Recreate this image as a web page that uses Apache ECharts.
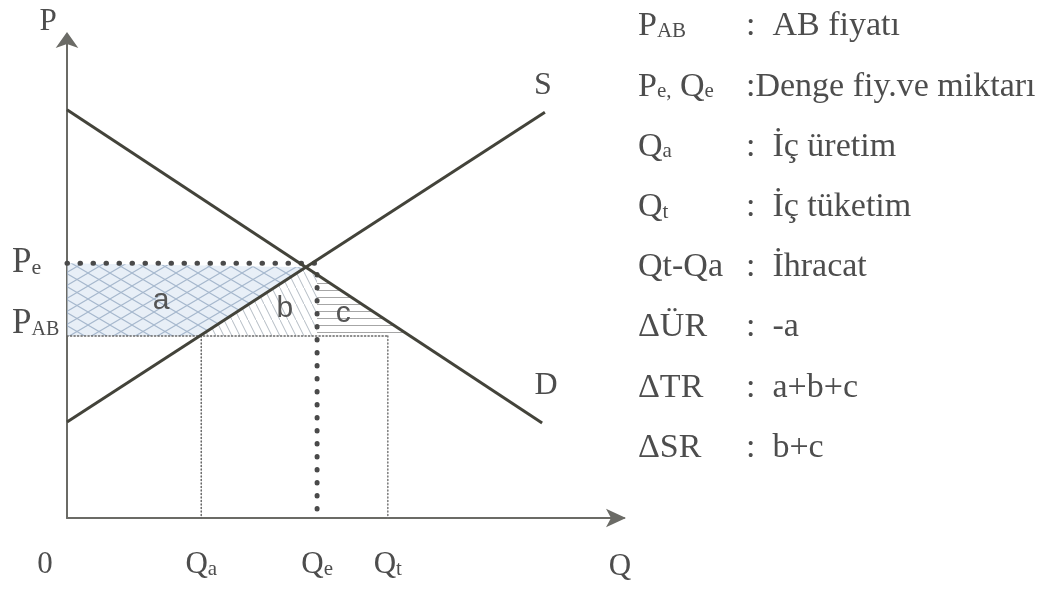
<!DOCTYPE html>
<html><head><meta charset="utf-8">
<script src="https://cdn.jsdelivr.net/npm/echarts@6/dist/echarts.min.js"></script>
<style>html,body{margin:0;padding:0;background:#fff}#c{width:1056px;height:590px}</style>
</head><body><div id="c"></div>
<script>
// ---- data (abstract units, axes 0..100) ----
const demandLine = [[0, 85.4], [85.3, 19.9]];
const supplyLine = [[0, 20.1], [85.8, 84.9]];
const priceNames = ['Pe', 'PAB'];
const priceValues = [53.3, 38.1];
const quantityNames = ['Qa', 'Qe', 'Qt'];
const quantityValues = [24.1, 44.9, 57.6];
const areaNames = ['a', 'b', 'c'];
const areaLabelPoints = [[16.9, 45.4], [39.1, 43.7], [49.6, 42.7]];
const legendKeys = ['{m|P}{s|AB}', '{m|P}{s|e,} {m|Q}{s|e}', '{m|Q}{s|a}', '{m|Q}{s|t}', '{m|Qt-Qa}', '{m|\u0394ÜR}', '{m|\u0394TR}', '{m|\u0394SR}'];
const legendTexts = [':  AB fiyatı', ':Denge fiy.ve miktarı', ':  İç üretim', ':  İç tüketim', ':  İhracat', ':  -a', ':  a+b+c', ':  b+c'];

// ---- helpers ----
function vAt(line, u) { const [[x1,y1],[x2,y2]] = line; return y1 + (y2-y1)*(u-x1)/(x2-x1); }
function uAt(line, v) { const [[x1,y1],[x2,y2]] = line; return x1 + (x2-x1)*(v-y1)/(y2-y1); }
function intersect(l1, l2) {
  const m1 = (l1[1][1]-l1[0][1])/(l1[1][0]-l1[0][0]), b1 = l1[0][1]-m1*l1[0][0];
  const m2 = (l2[1][1]-l2[0][1])/(l2[1][0]-l2[0][0]), b2 = l2[0][1]-m2*l2[0][0];
  const u = (b2-b1)/(m1-m2); return [u, m1*u+b1];
}
const Pe = priceValues[0], PAB = priceValues[1];
const Qa = quantityValues[0], Qe = quantityValues[1], Qt = quantityValues[2];
const I = intersect(demandLine, supplyLine);
const sPAB = uAt(supplyLine, PAB);
const dQe = vAt(demandLine, Qe);
const dPAB = uAt(demandLine, PAB);
const regions = [
  [[0, PAB], [sPAB, PAB], I, [0, Pe]],
  [[sPAB, PAB], I, [Qe, dQe], [Qe, PAB]],
  [[Qe, dQe], [Qe, PAB], [dPAB, PAB]]
];

function makePattern(w, h, bg, stroke, lw, draw) {
  const cv = document.createElement('canvas'); cv.width = w; cv.height = h;
  const ctx = cv.getContext('2d');
  if (bg) { ctx.fillStyle = bg; ctx.fillRect(0, 0, w, h); }
  ctx.strokeStyle = stroke; ctx.lineWidth = lw; ctx.beginPath(); draw(ctx, w, h); ctx.stroke();
  return { image: cv, repeat: 'repeat' };
}
const patterns = [
  makePattern(22, 13, 'rgba(214,226,240,0.55)', 'rgba(150,170,195,0.8)', 1.1, (c, w, h) => { c.moveTo(0,0); c.lineTo(w,h); c.moveTo(0,h); c.lineTo(w,0); }),
  makePattern(8, 16, null, 'rgba(160,170,180,0.8)', 1, (c, w, h) => { c.moveTo(0,0); c.lineTo(w,h); }),
  makePattern(4, 7, null, 'rgba(150,150,150,0.85)', 1, (c, w, h) => { c.moveTo(0,3.5); c.lineTo(w,3.5); })
];

const TXT = '#4d4d4d', LINE = '#43433a';
const SERIF = '"Liberation Serif", "Times New Roman", serif';
const richFor = (m, s, pad) => ({
  m: { fontSize: m, fontFamily: SERIF, fill: TXT },
  s: { fontSize: s, fontFamily: SERIF, fill: TXT, padding: [pad, 0, 0, 0] }
});
const sub = (n) => n.length > 1 ? '{m|' + n[0] + '}{s|' + n.slice(1) + '}' : '{m|' + n + '}';

// label table (built from data); offsets are pixel styling
const labels = [];
labels.push({ c: [0, 100], t: '{m|P}', dx: -19, dy: -18, al: 'center', f: [31, 20, 8] });
labels.push({ c: [0, 0], t: '{m|0}', dx: -22, dy: 47, al: 'center', f: [31, 20, 8] });
labels.push({ c: [100, 0], t: '{m|Q}', dx: -4, dy: 49, al: 'center', f: [31, 20, 8] });
quantityNames.forEach((n, i) => labels.push({ c: [quantityValues[i], 0], t: sub(n), dx: 0, dy: 47, al: 'center', f: [31, 21, 9] }));
labels.push({ c: [0, Pe], t: sub(priceNames[0]), dx: -55, dy: 0, al: 'left', f: [35, 22, 10] });
labels.push({ c: [0, PAB], t: sub(priceNames[1]), dx: -55, dy: -12, al: 'left', f: [35, 20, 12] });
labels.push({ c: supplyLine[1], t: '{m|S}', dx: -2, dy: -27, al: 'center', f: [32, 20, 8] });
labels.push({ c: demandLine[1], t: '{m|D}', dx: 4, dy: -37, al: 'center', f: [32, 20, 8] });

const dotted = (data, w, dash, color) => ({
  type: 'line', data, symbol: 'none', silent: true, z: 3,
  lineStyle: { width: w, type: dash, cap: 'round', color }
});

const chart = echarts.init(document.getElementById('c'), null, { renderer: 'canvas' });
chart.setOption({
  animation: false,
  backgroundColor: '#fff',
  grid: { left: 67, right: 432, top: 40, bottom: 72 },
  xAxis: {
    type: 'value', min: 0, max: 100,
    axisLine: { show: true, onZero: false, symbol: ['none', 'arrow'], symbolSize: [14, 20], symbolOffset: [0, 2], lineStyle: { color: '#6b6b66', width: 2 } },
    axisTick: { show: false }, axisLabel: { show: false }, splitLine: { show: false }
  },
  yAxis: {
    type: 'value', min: 0, max: 100,
    axisLine: { show: true, onZero: false, symbol: ['none', 'arrow'], symbolSize: [17, 16], symbolOffset: [0, 8], lineStyle: { color: '#6b6b66', width: 2 } },
    axisTick: { show: false }, axisLabel: { show: false }, splitLine: { show: false }
  },
  series: [
    {
      type: 'custom', silent: true, z: 1,
      data: regions.map((r, i) => i),
      renderItem: (params, api) => {
        const i = api.value(0);
        const pts = regions[i].map(p => api.coord(p));
        return { type: 'polygon', shape: { points: pts }, style: { fill: patterns[i] } };
      }
    },
    dotted([[0, Pe], [Qe, Pe]], 5, [0.5, 12.5], '#4a4a4a'),
    dotted([[Qe, dQe], [Qe, 0]], 5, [0.5, 12.5], '#4a4a4a'),
    dotted([[0, PAB], [Qt, PAB]], 1.5, [1.2, 2.3], '#666'),
    dotted([[Qa, PAB], [Qa, 0]], 1.5, [1.2, 2.3], '#666'),
    dotted([[Qt, PAB], [Qt, 0]], 1.5, [1.2, 2.3], '#777'),
    { type: 'line', data: demandLine, symbol: 'none', silent: true, z: 4, lineStyle: { width: 3, color: LINE } },
    { type: 'line', data: supplyLine, symbol: 'none', silent: true, z: 4, lineStyle: { width: 3, color: LINE } },
    {
      type: 'custom', silent: true, z: 5,
      data: areaLabelPoints.map((p, i) => [p[0], p[1], i]),
      renderItem: (params, api) => {
        const p = api.coord([api.value(0), api.value(1)]);
        return { type: 'text', x: p[0], y: p[1], style: { text: areaNames[api.value(2)], fontSize: 30, fontFamily: '"Liberation Sans", Arial, sans-serif', fill: '#555', align: 'center', verticalAlign: 'middle' } };
      }
    },
    {
      type: 'custom', silent: true, z: 5,
      data: labels.map((l, i) => [l.c[0], l.c[1], i]),
      renderItem: (params, api) => {
        const l = labels[api.value(2)];
        const p = api.coord([api.value(0), api.value(1)]);
        return { type: 'text', x: p[0] + l.dx, y: p[1] + l.dy, style: { text: l.t, rich: richFor(l.f[0], l.f[1], l.f[2]), fontSize: l.f[0], fontFamily: SERIF, fill: TXT, align: l.al, verticalAlign: 'middle' } };
      }
    }
  ],
  graphic: legendKeys.map((k, i) => ({
    type: 'group', x: 0, y: 0,
    children: [
      { type: 'text', x: 638, y: 26.5 + i * 60.2, style: { text: k, rich: richFor(34, 21, 10), fontSize: 34, fontFamily: SERIF, fill: TXT, verticalAlign: 'middle' } },
      { type: 'text', x: 746, y: 26.5 + i * 60.2, style: { text: legendTexts[i], fontSize: 34, fontFamily: SERIF, fill: TXT, verticalAlign: 'middle' } }
    ]
  }))
});
</script></body></html>
